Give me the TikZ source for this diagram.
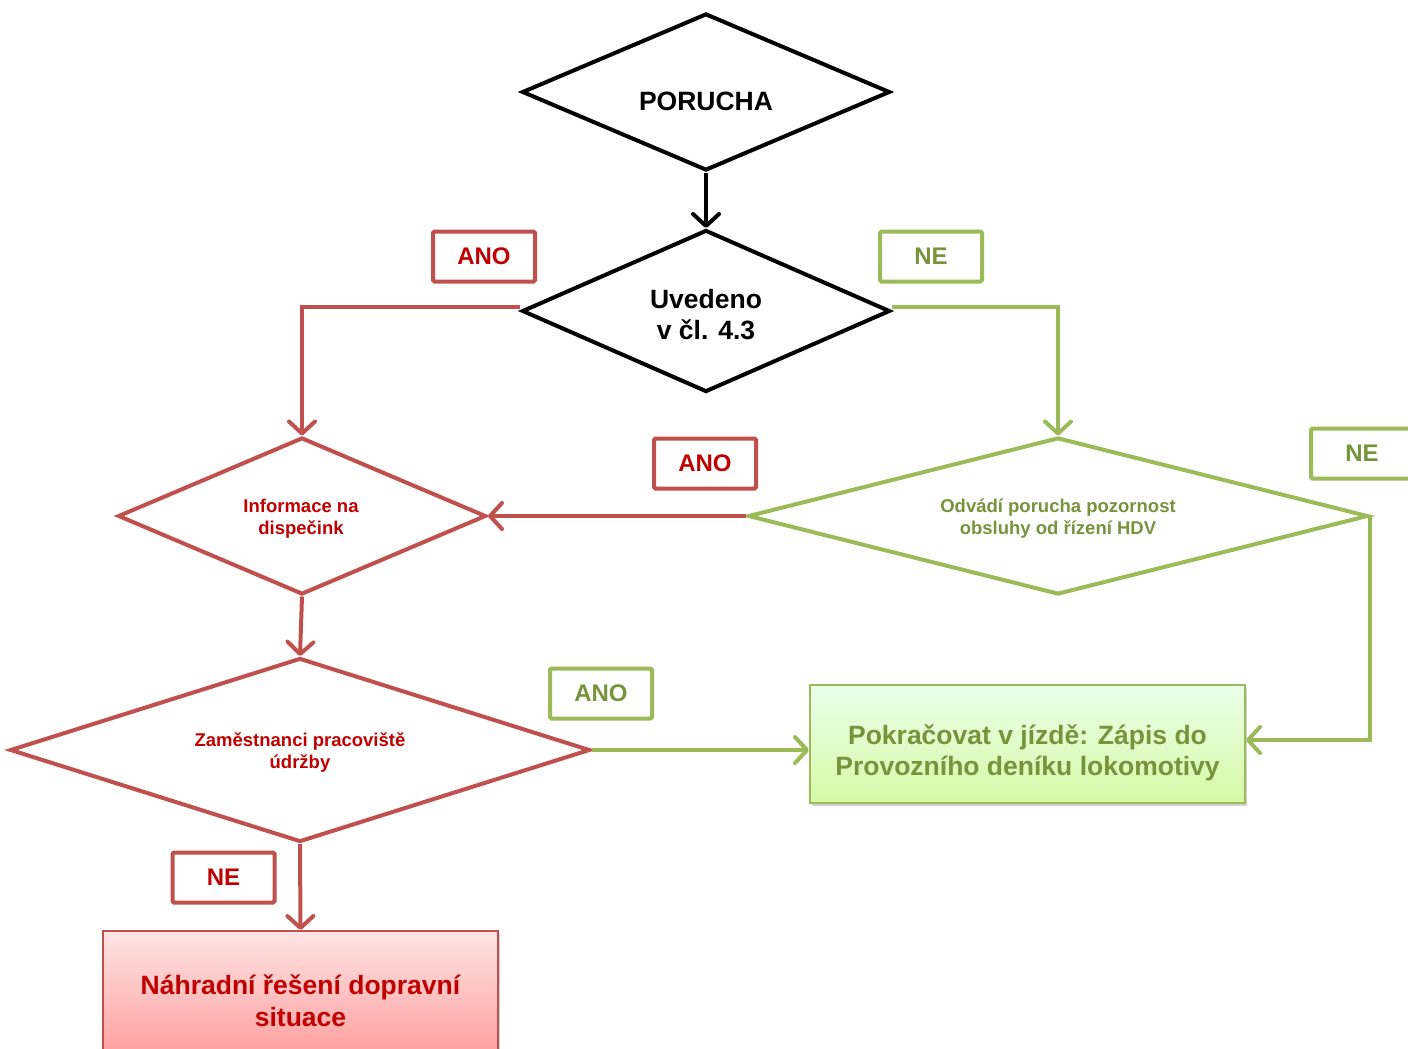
\documentclass[tikz,border=0pt]{standalone}
\usepackage{fontspec}
\setmainfont{Liberation Sans}
\usetikzlibrary{shapes.geometric,arrows.meta,shadows}
\definecolor{rline}{HTML}{C0504D}
\definecolor{rtext}{HTML}{C00000}
\definecolor{gline}{HTML}{9BBB59}
\definecolor{gtext}{HTML}{77933C}
\tikzset{
  dia/.style={diamond, draw, line width=4pt, inner sep=0pt, align=center, font=\bfseries},
  lbl/.style={draw, line width=4pt, rounded corners=1.5pt, minimum width=102pt, minimum height=50pt, inner sep=0pt, font=\fontsize{24}{28}\selectfont\bfseries},
  rlbl/.style={lbl, draw=rline, text=rtext},
  glbl/.style={lbl, draw=gline, text=gtext},
  conn/.style={line width=4pt, -{Straight Barb[length=12pt,width=26pt,line width=4pt,line cap=round,line join=round]}},
  smalltxt/.style={align=center, font=\fontsize{18.5}{22}\selectfont\bfseries},
}
\begin{document}
\begin{tikzpicture}[x=1pt,y=-1pt]
\useasboundingbox[fill=white] (0,0) rectangle (1408,1049);
% diamonds
\node[dia, aspect=2.3, minimum width=368pt, minimum height=157pt] (por) at (706,92) {};
\node[font=\fontsize{26.5}{30}\selectfont\bfseries] (portxt) at (706,101) {PORUCHA};
\node[dia, aspect=2.3, minimum width=368pt, minimum height=162pt] (uv) at (706,311) {};
\node[align=center, font=\fontsize{26.5}{31}\selectfont\bfseries] (uvtxt) at (706,315) {Uvedeno\\v čl. 4.3};
\node[dia, aspect=2.3, draw=rline, minimum width=368pt, minimum height=157pt] (info) at (302,516) {};
\node[smalltxt, text=rtext] (infotxt) at (301,519) {Informace na\\dispečink};
\node[dia, aspect=4, draw=gline, minimum width=620pt, minimum height=157pt] (odv) at (1058,516) {};
\node[smalltxt, text=gtext] (odvtxt) at (1058,519) {Odvádí porucha pozornost\\obsluhy od řízení HDV};
\node[dia, aspect=3.2, draw=rline, minimum width=580pt, minimum height=184pt] (zam) at (300,750) {};
\node[smalltxt, text=rtext] (zamtxt) at (300,753) {Zaměstnanci pracoviště\\údržby};
% result boxes
\node[draw=gline, line width=2pt, top color=green!8!white, bottom color={rgb,255:red,215;green,248;blue,165}, drop shadow={shadow xshift=2pt,shadow yshift=-3pt,opacity=0.35}, minimum width=435pt, minimum height=118pt] (pok) at (1027.5,744) {};
\node[align=center, text=gtext, font=\fontsize{26.5}{31}\selectfont\bfseries] (poktxt) at (1027.5,753) {Pokračovat v jízdě: Zápis do\\Provozního deníku lokomotivy};
\node[draw=rline, line width=2pt, top color={rgb,255:red,255;green,228;blue,228}, bottom color={rgb,255:red,255;green,150;blue,150}, drop shadow={shadow xshift=2pt,shadow yshift=-3pt,opacity=0.35}, minimum width=395pt, minimum height=140pt, align=center, text=rtext, font=\fontsize{26.5}{32}\selectfont\bfseries] (nah) at (300.5,1001) {Náhradní řešení dopravní\\situace};
% labels
\node[rlbl] (ano1) at (484,256.5) {ANO};
\node[glbl] (ne1) at (931,256.5) {NE};
\node[rlbl] (ano2) at (705,463.5) {ANO};
\node[glbl] (ne2) at (1362,453.5) {NE};
\node[glbl] (ano3) at (601,693.5) {ANO};
\node[rlbl] (ne3) at (223.5,877.5) {NE};
% connectors
\draw[conn] (por.south) -- (uv.north);
\draw[conn, draw=rline] ([yshift=4pt]uv.west) -| (info.north);
\draw[conn, draw=gline] ([yshift=4pt]uv.east) -| (odv.north);
\draw[conn, draw=rline] (odv.west) -- (info.east);
\draw[conn, draw=gline] (odv.east) |- ([yshift=4pt]pok.east);
\draw[conn, draw=rline] (info.south) -- (zam.north);
\draw[conn, draw=gline] (zam.east) -- (zam.east -| pok.west);
\draw[conn, draw=rline] (zam.south) -- (nah.north);
\end{tikzpicture}
\end{document}
